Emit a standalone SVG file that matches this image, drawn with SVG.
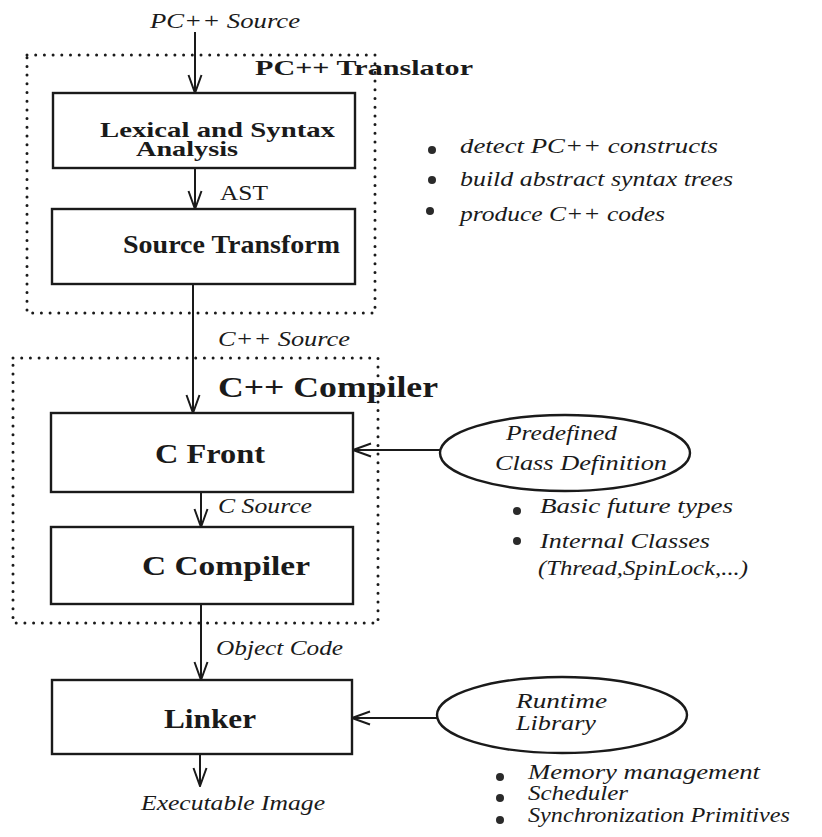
<svg xmlns="http://www.w3.org/2000/svg" width="822" height="837" viewBox="0 0 822 837">
<style>
.box{fill:none;stroke:#1a1a1a;stroke-width:2.4}
.dot{fill:none;stroke:#1a1a1a;stroke-width:3;stroke-dasharray:0 8.7;stroke-linecap:round}
.ln{fill:none;stroke:#1a1a1a;stroke-width:2}
.b{font-family:"Liberation Serif",serif;font-weight:bold;fill:#1a1a1a}
.i{font-family:"Liberation Serif",serif;font-style:italic;fill:#1a1a1a;font-size:21px}
.r{font-family:"Liberation Serif",serif;fill:#1a1a1a;font-size:22px}
.bul{fill:#2a2a2a}
</style>
<defs>
<marker id="ah" markerUnits="userSpaceOnUse" markerWidth="20" markerHeight="16" viewBox="0 0 20 16" refX="19" refY="8" orient="auto">
<path d="M1,1.5 L19,8 L1,14.5" fill="none" stroke="#1a1a1a" stroke-width="2"/>
</marker>
</defs>
<rect width="822" height="837" fill="#fff"/>

<g id="translator-group">
<rect class="dot" x="27" y="55" width="348" height="258"/>
<text class="b" x="255" y="75" font-size="22" textLength="218" lengthAdjust="spacingAndGlyphs">PC++ Translator</text>
</g>
<g id="compiler-group">
<rect class="dot" x="13" y="358" width="365" height="265"/>
<text class="b" x="218" y="397" font-size="29" textLength="220" lengthAdjust="spacingAndGlyphs">C++ Compiler</text>
</g>

<g id="lexical">
<rect class="box" x="53" y="93" width="302" height="75"/>
<text class="b" x="100" y="137" font-size="22" textLength="235" lengthAdjust="spacingAndGlyphs">Lexical and Syntax</text>
<text class="b" x="136" y="156" font-size="22" textLength="102" lengthAdjust="spacingAndGlyphs">Analysis</text>
</g>
<g id="source-transform">
<rect class="box" x="52" y="209" width="303" height="75"/>
<text class="b" x="123" y="253" font-size="25" textLength="217" lengthAdjust="spacingAndGlyphs">Source Transform</text>
</g>
<g id="c-front">
<rect class="box" x="51" y="413" width="302" height="79"/>
<text class="b" x="155" y="463" font-size="27" textLength="110" lengthAdjust="spacingAndGlyphs">C Front</text>
</g>
<g id="c-compiler">
<rect class="box" x="51" y="527" width="302" height="77"/>
<text class="b" x="142" y="575" font-size="27" textLength="168" lengthAdjust="spacingAndGlyphs">C Compiler</text>
</g>
<g id="linker">
<rect class="box" x="52" y="680" width="300" height="74"/>
<text class="b" x="164" y="728" font-size="27" textLength="92" lengthAdjust="spacingAndGlyphs">Linker</text>
</g>

<g id="predefined">
<ellipse class="box" cx="565" cy="453" rx="125" ry="38"/>
<text class="i" x="506" y="440" textLength="111" lengthAdjust="spacingAndGlyphs">Predefined</text>
<text class="i" x="495" y="470" textLength="172" lengthAdjust="spacingAndGlyphs">Class Definition</text>
</g>
<g id="runtime">
<ellipse class="box" cx="562" cy="715" rx="125" ry="38"/>
<text class="i" x="516" y="708" textLength="91" lengthAdjust="spacingAndGlyphs">Runtime</text>
<text class="i" x="516" y="730" textLength="80" lengthAdjust="spacingAndGlyphs">Library</text>
</g>

<g id="connectors">
<line class="ln" x1="195" y1="32" x2="195" y2="93" marker-end="url(#ah)"/>
<line class="ln" x1="195" y1="168" x2="195" y2="209" marker-end="url(#ah)"/>
<line class="ln" x1="193" y1="284" x2="193" y2="413" marker-end="url(#ah)"/>
<line class="ln" x1="201" y1="492" x2="201" y2="527" marker-end="url(#ah)"/>
<line class="ln" x1="201" y1="604" x2="201" y2="680" marker-end="url(#ah)"/>
<line class="ln" x1="200" y1="754" x2="200" y2="786" marker-end="url(#ah)"/>
<line class="ln" x1="440" y1="450" x2="353" y2="450" marker-end="url(#ah)"/>
<line class="ln" x1="437" y1="718" x2="352" y2="718" marker-end="url(#ah)"/>
</g>

<g id="labels">
<text class="i" x="150" y="28" textLength="150" lengthAdjust="spacingAndGlyphs">PC++ Source</text>
<text class="r" x="220" y="200" textLength="48" lengthAdjust="spacingAndGlyphs">AST</text>
<text class="i" x="218" y="346" textLength="132" lengthAdjust="spacingAndGlyphs">C++ Source</text>
<text class="i" x="218" y="513" textLength="94" lengthAdjust="spacingAndGlyphs">C Source</text>
<text class="i" x="216" y="655" textLength="127" lengthAdjust="spacingAndGlyphs">Object Code</text>
<text class="i" x="141" y="810" textLength="184" lengthAdjust="spacingAndGlyphs">Executable Image</text>
</g>

<g id="translator-notes">
<circle class="bul" cx="432" cy="150" r="4"/>
<circle class="bul" cx="432" cy="180" r="4"/>
<circle class="bul" cx="430" cy="211" r="4"/>
<text class="i" x="460" y="153" textLength="258" lengthAdjust="spacingAndGlyphs">detect PC++ constructs</text>
<text class="i" x="460" y="186" textLength="273" lengthAdjust="spacingAndGlyphs">build abstract syntax trees</text>
<text class="i" x="460" y="221" textLength="205" lengthAdjust="spacingAndGlyphs">produce C++ codes</text>
</g>
<g id="class-notes">
<circle class="bul" cx="517" cy="511" r="4"/>
<circle class="bul" cx="517" cy="541" r="4"/>
<text class="i" x="540" y="513" textLength="193" lengthAdjust="spacingAndGlyphs">Basic future types</text>
<text class="i" x="540" y="548" textLength="170" lengthAdjust="spacingAndGlyphs">Internal Classes</text>
<text class="i" x="538" y="575" textLength="210" lengthAdjust="spacingAndGlyphs">(Thread,SpinLock,...)</text>
</g>
<g id="runtime-notes">
<circle class="bul" cx="500" cy="777" r="4"/>
<circle class="bul" cx="500" cy="798" r="4"/>
<circle class="bul" cx="500" cy="820" r="4"/>
<text class="i" x="528" y="779" font-size="20" textLength="232" lengthAdjust="spacingAndGlyphs">Memory management</text>
<text class="i" x="528" y="800" font-size="20" textLength="100" lengthAdjust="spacingAndGlyphs">Scheduler</text>
<text class="i" x="528" y="822" font-size="20" textLength="262" lengthAdjust="spacingAndGlyphs">Synchronization Primitives</text>
</g>
</svg>
